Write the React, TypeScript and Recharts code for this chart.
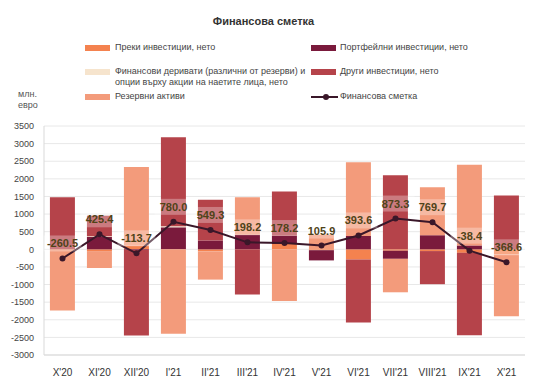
import React from 'react';
import {
  ComposedChart,
  Bar,
  Line,
  XAxis,
  YAxis,
  CartesianGrid,
} from 'recharts';

const categories = ["X'20", "XI'20", "XII'20", "I'21", "II'21", "III'21", "IV'21", "V'21", "VI'21", "VII'21", "VIII'21", "IX'21", "X'21"];
const direct = [-20, -50, 100, 0, -60, 0, 150, -25, -290, -40, -50, -100, -150];
const portfolio = [0, 350, -20, 625, 250, 410, 237, -290, 380, -230, 400, 110, 0];
const derivatives = [0, 20, 0, 30, 0, 0, 0, 0, 0, 0, 0, 0, 0];
const other = [1480, 585, -2430, 2525, 1160, -1284, 1255, 0, -1790, 2100, -940, -2340, 1530];
const reserve = [-1720, -480, 2235, -2400, -800, 1070, -1465, 420, 2090, -950, 1360, 2290, -1750];
const financial = [-260.5, 425.4, -113.7, 780.0, 549.3, 198.2, 178.2, 105.9, 393.6, 873.3, 769.7, -38.4, -368.6];
const yTicks = [-3000, -2500, -2000, -1500, -1000, -500, 0, 500, 1000, 1500, 2000, 2500, 3000, 3500];

const data = categories.map((month, i) => ({
  month,
  direct: direct[i],
  portfolio: portfolio[i],
  derivatives: derivatives[i],
  other: other[i],
  reserve: reserve[i],
  financial: financial[i],
}));

const COLORS = {
  direct: '#f4824f',
  portfolio: '#7a1a3c',
  derivatives: '#f6e4cd',
  other: '#b5434a',
  reserve: '#f39b7b',
  line: '#3a1729',
};

const font = '"Liberation Sans", Arial, sans-serif';

const ValueLabel = (props: any) => {
  const { x, y, value } = props;
  if (x == null || y == null) return null;
  const cy = y - 15;
  return (
    <g>
      <rect x={x - 19} y={cy - 8} width={38} height={16} fill="#ffffff" fillOpacity={0.3} />
      <text x={x} y={cy + 4} textAnchor="middle" fontSize={11} fontWeight="bold" fill="#4f4318" fontFamily={font}>
        {Number(value).toFixed(1)}
      </text>
    </g>
  );
};

const legendText: React.CSSProperties = { position: 'absolute', fontSize: 9, color: '#444', fontFamily: font, lineHeight: '11px' };
const swatch = (left: number, top: number, color: string): React.CSSProperties => ({
  position: 'absolute', left, top, width: 25, height: 6, background: color,
});

export default function App() {
  return (
    <div style={{ margin: -8 }}>
      <div style={{ position: 'relative', width: 541, height: 387, background: '#fff' }}>
        <div style={{ position: 'absolute', left: 7, top: 4, width: 525, height: 378, border: '1px solid #dcdcdc' }} />
        <div style={{ position: 'absolute', left: 0, width: 527, top: 15, textAlign: 'center', fontSize: 11, fontWeight: 'bold', color: '#333', fontFamily: font }}>
          Финансова сметка
        </div>
        <div style={swatch(85, 45, COLORS.direct)} />
        <div style={{ ...legendText, left: 115, top: 42 }}>Преки инвестиции, нето</div>
        <div style={swatch(311, 45, COLORS.portfolio)} />
        <div style={{ ...legendText, left: 340, top: 42 }}>Портфейлни инвестиции, нето</div>
        <div style={swatch(85, 69, COLORS.derivatives)} />
        <div style={{ ...legendText, left: 115, top: 66 }}>
          Финансови деривати (различни от резерви) и<br />опции върху акции на наетите лица, нето
        </div>
        <div style={swatch(311, 69, COLORS.other)} />
        <div style={{ ...legendText, left: 340, top: 66 }}>Други инвестиции, нето</div>
        <div style={swatch(85, 94, COLORS.reserve)} />
        <div style={{ ...legendText, left: 115, top: 91 }}>Резервни активи</div>
        <div style={{ position: 'absolute', left: 311, top: 96, width: 27, height: 2, background: COLORS.line }} />
        <div style={{ position: 'absolute', left: 323, top: 94, width: 6, height: 6, borderRadius: 3, background: COLORS.line }} />
        <div style={{ ...legendText, left: 340, top: 91 }}>Финансова сметка</div>
        <div style={{ ...legendText, left: 18, top: 89, color: '#555' }}>млн.<br />евро</div>
        <div style={{ position: 'absolute', left: 0, top: 0 }}>
          <ComposedChart
            width={541}
            height={387}
            data={data}
            stackOffset="sign"
            barCategoryGap="16%"
            margin={{ top: 126, right: 16, bottom: 2, left: 0 }}
          >
            <CartesianGrid stroke="#e8e8e8" vertical={false} />
            <XAxis
              dataKey="month"
              height={30}
              axisLine={{ stroke: '#d9d9d9' }}
              tickLine={false}
              tick={{ fontSize: 10, fill: '#333', fontFamily: font }}
              tickMargin={8}
              interval={0}
            />
            <YAxis
              width={44}
              domain={[-3000, 3500]}
              ticks={yTicks}
              interval={0}
              axisLine={{ stroke: '#d9d9d9' }}
              tickLine={false}
              tick={{ fontSize: 9, fill: '#444', fontFamily: font }}
              tickMargin={4}
            />
            <Bar dataKey="direct" stackId="a" fill={COLORS.direct} isAnimationActive={false} />
            <Bar dataKey="portfolio" stackId="a" fill={COLORS.portfolio} isAnimationActive={false} />
            <Bar dataKey="derivatives" stackId="a" fill={COLORS.derivatives} isAnimationActive={false} />
            <Bar dataKey="other" stackId="a" fill={COLORS.other} isAnimationActive={false} />
            <Bar dataKey="reserve" stackId="a" fill={COLORS.reserve} isAnimationActive={false} />
            <Line
              dataKey="financial"
              type="linear"
              stroke={COLORS.line}
              strokeWidth={2}
              dot={{ r: 3, fill: COLORS.line, stroke: COLORS.line, strokeWidth: 0 }}
              label={(p: any) => <ValueLabel {...p} />}
              isAnimationActive={false}
            />
          </ComposedChart>
        </div>
      </div>
    </div>
  );
}
